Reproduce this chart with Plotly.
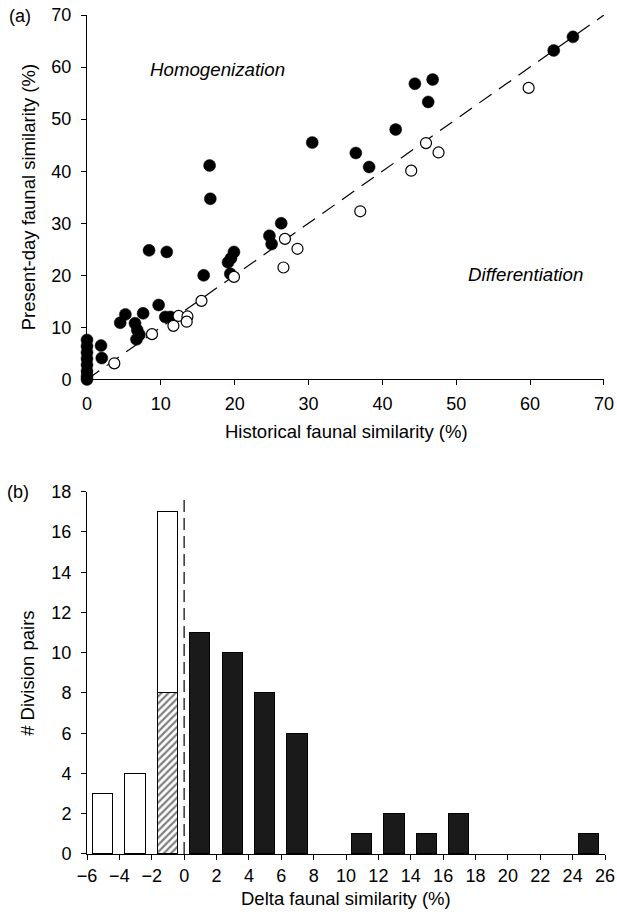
import plotly.graph_objects as go

# ---------- Panel (a): scatter data ----------
hist_filled = [65.8, 63.2, 46.8, 44.4, 46.2, 41.8, 30.5, 36.4, 38.2,
               16.6, 16.7, 26.3, 24.7, 25.0, 19.9, 19.5, 19.1, 19.4, 15.8,
               8.4, 10.8, 9.7, 10.6, 11.3, 5.2, 4.5, 7.6, 6.5, 6.8,
               7.1, 6.7, 1.9, 2.0,
               0, 0, 0, 0, 0, 0, 0, 0]
pres_filled = [65.8, 63.2, 57.6, 56.8, 53.3, 48.0, 45.5, 43.5, 40.8,
               41.1, 34.7, 30.0, 27.6, 26.0, 24.5, 23.3, 22.5, 20.3, 20.0,
               24.8, 24.5, 14.3, 12.0, 12.0, 12.5, 10.9, 12.7, 10.8, 9.5,
               8.6, 7.7, 6.5, 4.1,
               7.6, 6.4, 5.2, 4.0, 2.8, 1.6, 0.6, 0.0]
hist_open = [59.8, 45.9, 47.6, 43.9, 37.0, 26.8, 28.5, 26.6, 19.9, 15.5,
             12.4, 11.7, 13.6, 13.5, 8.8, 3.7]
pres_open = [56.0, 45.4, 43.6, 40.1, 32.3, 27.0, 25.1, 21.5, 19.7, 15.1,
             12.2, 10.3, 12.1, 11.1, 8.7, 3.1]

# ---------- Panel (b): histogram data ----------
neg_centers = [-5, -3, -1]
neg_counts = [3, 4, 17]
hatch_centers = [-1]
hatch_counts = [8]
pos_centers = [1, 3, 5, 7, 11, 13, 15, 17, 25]
pos_counts = [11, 10, 8, 6, 1, 2, 1, 2, 1]

x_ticks_a = [0, 10, 20, 30, 40, 50, 60, 70]
y_ticks_a = [0, 10, 20, 30, 40, 50, 60, 70]
x_ticks_b = list(range(-6, 27, 2))
y_ticks_b = list(range(0, 19, 2))

FONT = "Liberation Sans, Arial, Helvetica, sans-serif"
TICKF = dict(family=FONT, size=18, color="black")
TITLEF = dict(family=FONT, size=18.5, color="black")

fig = go.Figure()

# diagonal 1:1 line
fig.add_trace(go.Scatter(x=[0, 70], y=[0, 70], mode="lines",
                         line=dict(color="black", width=1.2, dash="15px,9px"),
                         xaxis="x", yaxis="y", hoverinfo="skip", showlegend=False))
fig.add_trace(go.Scatter(x=hist_filled, y=pres_filled, mode="markers",
                         marker=dict(size=12, color="black", line=dict(color="black", width=0.5)),
                         cliponaxis=False, xaxis="x", yaxis="y", showlegend=False))
fig.add_trace(go.Scatter(x=hist_open, y=pres_open, mode="markers",
                         marker=dict(size=11, color="white", line=dict(color="black", width=1.2)),
                         cliponaxis=False, xaxis="x", yaxis="y", showlegend=False))

# histogram
open_part = [c - (hatch_counts[hatch_centers.index(x)] if x in hatch_centers else 0)
             for x, c in zip(neg_centers, neg_counts)]
fig.add_trace(go.Bar(x=hatch_centers, y=hatch_counts, width=1.25,
                     marker=dict(color="white", line=dict(color="black", width=1),
                                 pattern=dict(shape="/", fgcolor="black", bgcolor="white",
                                              size=5, solidity=0.45)),
                     xaxis="x2", yaxis="y2", showlegend=False))
fig.add_trace(go.Bar(x=neg_centers, y=open_part, width=1.25,
                     marker=dict(color="white", line=dict(color="black", width=1)),
                     xaxis="x2", yaxis="y2", showlegend=False))
fig.add_trace(go.Bar(x=pos_centers, y=pos_counts, width=1.25,
                     marker=dict(color="#1a1a1a", line=dict(color="black", width=1)),
                     xaxis="x2", yaxis="y2", showlegend=False))
fig.add_trace(go.Scatter(x=[0, 0], y=[0, 17.7], mode="lines",
                         line=dict(color="black", width=1.2, dash="12px,6px"),
                         xaxis="x2", yaxis="y2", hoverinfo="skip", showlegend=False))

axis_common = dict(showline=True, linecolor="black", linewidth=1, ticks="outside",
                   ticklen=5, tickwidth=1, tickcolor="black", showgrid=False,
                   zeroline=False, tickfont=TICKF, fixedrange=True, automargin=False)

fig.update_layout(
    width=617, height=915,
    margin=dict(l=87, r=12, t=15, b=61),
    paper_bgcolor="white", plot_bgcolor="white",
    barmode="stack", bargap=0,
    font=dict(family=FONT, color="black"),
    xaxis=dict(domain=[0, 0.998], range=[0, 70], tickvals=x_ticks_a, anchor="y",
               ticklabelstandoff=3, **axis_common),
    yaxis=dict(domain=[0.5656, 1.0], range=[0, 70], tickvals=y_ticks_a, anchor="x",
               ticklabelstandoff=6, **axis_common),
    xaxis2=dict(domain=[0, 1], range=[-6, 26], tickvals=x_ticks_b, anchor="y2",
                ticklabelstandoff=0, **axis_common),
    yaxis2=dict(domain=[0, 0.4318], range=[0, 18], tickvals=y_ticks_b, anchor="x2",
                ticklabelstandoff=6, **axis_common),
)

annotations = [
    dict(text="<i>Homogenization</i>", x=17.7, y=59.5, xref="x", yref="y", showarrow=False,
         font=dict(family=FONT, size=18.7, color="black"), xanchor="center", yanchor="middle"),
    dict(text="<i>Differentiation</i>", x=59.4, y=20.2, xref="x", yref="y", showarrow=False,
         font=dict(family=FONT, size=18.7, color="black"), xanchor="center", yanchor="middle"),
    dict(text="Historical faunal similarity (%)", x=0.5, y=0.503, xref="paper", yref="paper",
         showarrow=False, font=TITLEF, xanchor="center", yanchor="middle"),
    dict(text="Present-day faunal similarity (%)", x=-0.1139, y=0.7828, xref="paper", yref="paper",
         showarrow=False, font=TITLEF, textangle=-90, xanchor="center", yanchor="middle"),
    dict(text="Delta faunal similarity (%)", x=0.5, y=-0.053, xref="paper", yref="paper",
         showarrow=False, font=TITLEF, xanchor="center", yanchor="middle"),
    dict(text="# Division pairs", x=-0.1139, y=0.2159, xref="paper", yref="paper",
         showarrow=False, font=TITLEF, textangle=-90, xanchor="center", yanchor="middle"),
    dict(text="(a)", x=-0.129, y=0.9994, xref="paper", yref="paper", showarrow=False,
         font=dict(family=FONT, size=18, color="black"), xanchor="center", yanchor="middle"),
    dict(text="(b)", x=-0.133, y=0.4309, xref="paper", yref="paper", showarrow=False,
         font=dict(family=FONT, size=18, color="black"), xanchor="center", yanchor="middle"),
]
fig.update_layout(annotations=annotations)

# remove the default 8px page margin so the 617x915 figure fills the window exactly
fig.write_html("out.html", config={"displayModeBar": False},
               post_script="document.body.style.margin='0px';")
